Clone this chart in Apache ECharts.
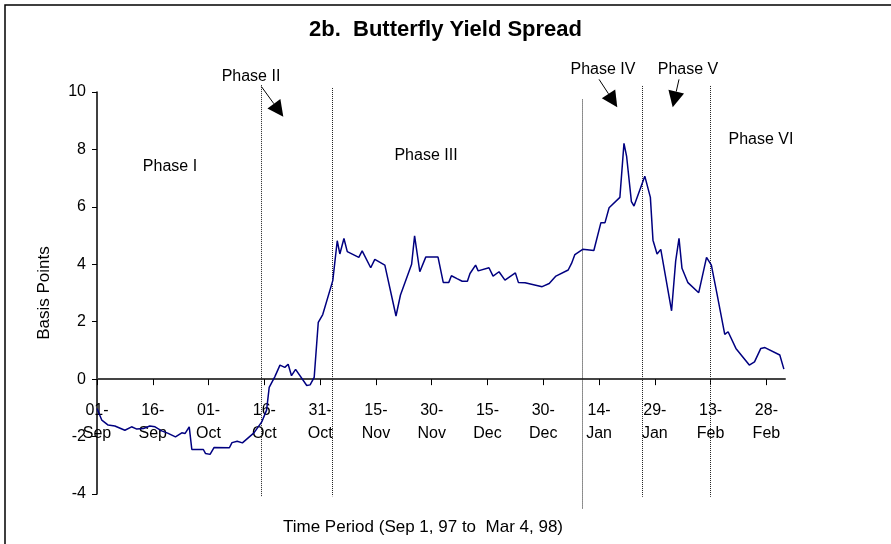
<!DOCTYPE html>
<html>
<head>
<meta charset="utf-8">
<script src="https://cdn.jsdelivr.net/npm/echarts@6/dist/echarts.min.js"></script>
<style>
  html, body { margin: 0; padding: 0; background: #fff; }
  #chart { width: 891px; height: 544px; }
</style>
</head>
<body>
<div id="chart"></div>
<script>
// days counted from 01-Sep-97
var days = [0, 1.3, 3, 4.8, 7.5, 9.3, 10.7, 12.5, 14.2, 15.6, 17.4, 19, 21.1, 22.8, 23.7, 24.8, 25.5, 28.6, 29.2, 30.4,
  31.5, 35.6, 36.3, 37.7, 39.1, 42.2, 44.3, 45.6, 46.3, 47.8, 49.2, 50.5, 51.4, 52.3, 53.4, 56.4, 57.3, 58.4, 59.5, 60.7,
  63.4, 64.6, 65.3, 66.4, 67.3, 70.4, 71.3, 73.6, 74.7, 77.4, 80.4, 81.6, 84.6, 85.4, 86.8, 88.4, 91.7, 93.1, 94.6, 95.3,
  96.8, 98.2, 99.6, 100.3, 101.8, 102.5, 105.4, 106.5, 108.1, 109.7, 112.5, 113.3, 115.1, 119.7, 121.6, 123.4, 126.7, 127.6, 128.5, 130.6,
  133.6, 135.5, 136.6, 137.7, 140.6, 141.7, 142.4, 143.7, 144.4, 147.3, 148.8, 149.5, 150.6, 151.6, 154.5, 155.6, 156.5, 157.3, 158.9, 161.8,
  163.9, 165.2, 166.7, 168.8, 169.7, 171.8, 175.4, 176.8, 178.5, 179.6, 183.6, 184.7];
var spread = [-1.02, -1.43, -1.6, -1.63, -1.78, -1.66, -1.74, -1.72, -1.63, -1.66, -1.8, -1.88, -2.01, -1.87, -1.89, -1.66, -2.45, -2.45, -2.59, -2.62,
  -2.38, -2.39, -2.21, -2.16, -2.22, -1.87, -1.49, -1.08, -0.29, 0.08, 0.49, 0.41, 0.52, 0.12, 0.34, -0.22, -0.2, 0.06, 1.98, 2.25,
  3.43, 4.82, 4.36, 4.9, 4.44, 4.24, 4.47, 3.88, 4.17, 3.97, 2.2, 2.93, 4.0, 4.99, 3.74, 4.25, 4.25, 3.37, 3.37, 3.6,
  3.5, 3.41, 3.41, 3.68, 3.97, 3.77, 3.88, 3.59, 3.74, 3.45, 3.7, 3.37, 3.36, 3.22, 3.33, 3.59, 3.8, 4.03, 4.34, 4.52,
  4.48, 5.45, 5.45, 5.97, 6.33, 8.21, 7.77, 6.18, 6.03, 7.07, 6.33, 4.84, 4.36, 4.52, 2.38, 4.11, 4.9, 3.86, 3.36, 3.01,
  4.24, 3.97, 2.98, 1.56, 1.65, 1.07, 0.49, 0.6, 1.07, 1.1, 0.84, 0.35];

var tickDays = [0, 15, 30, 45, 60, 75, 90, 105, 120, 135, 150, 165, 180];
var tickLabels = ['01-\nSep', '16-\nSep', '01-\nOct', '16-\nOct', '31-\nOct', '15-\nNov', '30-\nNov',
  '15-\nDec', '30-\nDec', '14-\nJan', '29-\nJan', '13-\nFeb', '28-\nFeb'];

// phase boundaries: [day, top value, bottom value]
var dividers = [[44.1, 10.24, -4.08], [63.4, 10.14, -4.08], [130.6, 9.74, -4.53], [146.8, 10.21, -4.1], [165, 10.21, -4.1]];
// arrows: [from day, from value, to day, to value]
var arrows = [[44.2, 10.19, 50.1, 9.14], [135.0, 10.44, 139.9, 9.47], [156.5, 10.44, 154.8, 9.47]];

var chart = echarts.init(document.getElementById('chart'));
var font = 'Liberation Sans, Arial, sans-serif';

var points = days.map(function (d, i) { return [d, spread[i]]; });

function phaseText(txt, x, y) {
  return {
    type: 'text', x: x, y: y, silent: true,
    style: { text: txt, font: '16px ' + font, fill: '#000', textAlign: 'center', textVerticalAlign: 'middle' }
  };
}

// grid is 402px tall over -4..10, so y=0 sits 4/14 of it above the bottom
var zeroOffset = -402 * 4 / 14;

chart.setOption({
  animation: false,
  title: [{
    text: '2b.  Butterfly Yield Spread',
    left: 'center', top: 14,
    textStyle: { fontFamily: font, fontSize: 22, fontWeight: 'bold', color: '#000' }
  }, {
    text: 'Time Period (Sep 1, 97 to  Mar 4, 98)',
    left: 418, top: 514, textAlign: 'center',
    textStyle: { fontFamily: font, fontSize: 17, fontWeight: 'normal', color: '#000' }
  }],
  grid: { left: 97, right: 106, top: 92, bottom: 50, outerBoundsMode: 'none', containLabel: false },
  xAxis: {
    type: 'value', min: 0, max: 185,
    offset: zeroOffset,
    axisLine: { onZero: false, lineStyle: { color: '#444', width: 2 } },
    axisTick: { customValues: tickDays, length: 6, lineStyle: { color: '#000' } },
    axisLabel: {
      customValues: tickDays, margin: 20, lineHeight: 23,
      fontFamily: font, fontSize: 16, color: '#000',
      formatter: function (v) { return tickLabels[tickDays.indexOf(v)]; }
    },
    splitLine: { show: false }
  },
  yAxis: {
    type: 'value', min: -4, max: 10, interval: 2,
    name: 'Basis Points', nameLocation: 'middle', nameGap: 44,
    nameTextStyle: { fontFamily: font, fontSize: 17, color: '#000' },
    axisLine: { show: true, onZero: false, lineStyle: { color: '#000', width: 1.5 } },
    axisTick: { show: true, length: 5, lineStyle: { color: '#000' } },
    axisLabel: { margin: 11, fontFamily: font, fontSize: 16, color: '#000' },
    splitLine: { show: false }
  },
  series: [{
    type: 'line',
    data: points,
    symbol: 'none',
    lineStyle: { color: '#000080', width: 1.5 },
    z: 3
  }, {
    type: 'custom',
    data: dividers,
    encode: { x: 0, y: [1, 2] },
    clip: false,
    silent: true,
    renderItem: function (params, api) {
      var p1 = api.coord([api.value(0), api.value(1)]);
      var p2 = api.coord([api.value(0), api.value(2)]);
      var x = Math.floor(p1[0]) + 0.5;
      return {
        type: 'line',
        shape: { x1: x, y1: p1[1], x2: x, y2: p2[1] },
        style: { stroke: '#222', lineWidth: 1, lineDash: [1, 1] }
      };
    },
    z: 2
  }, {
    type: 'custom',
    data: arrows,
    encode: { x: [0, 2], y: [1, 3] },
    clip: false,
    silent: true,
    renderItem: function (params, api) {
      var a = api.coord([api.value(0), api.value(1)]);
      var b = api.coord([api.value(2), api.value(3)]);
      var dx = b[0] - a[0], dy = b[1] - a[1];
      var len = Math.sqrt(dx * dx + dy * dy);
      var ux = dx / len, uy = dy / len;
      var head = 16, half = 8;
      var bx = b[0] - ux * head, by = b[1] - uy * head;
      return {
        type: 'group',
        children: [{
          type: 'line',
          shape: { x1: a[0], y1: a[1], x2: bx, y2: by },
          style: { stroke: '#000', lineWidth: 1 }
        }, {
          type: 'polygon',
          shape: { points: [[b[0], b[1]], [bx - uy * half, by + ux * half], [bx + uy * half, by - ux * half]] },
          style: { fill: '#000' }
        }]
      };
    },
    z: 4
  }],
  graphic: [
    { type: 'rect', shape: { x: 5, y: 5, width: 1000, height: 1000 }, style: { fill: 'none', stroke: '#000', lineWidth: 1.5 }, silent: true },
    phaseText('Phase I', 170, 167),
    phaseText('Phase II', 251, 77),
    phaseText('Phase III', 426, 156),
    phaseText('Phase IV', 603, 70),
    phaseText('Phase V', 688, 70),
    phaseText('Phase VI', 761, 140)
  ]
});
</script>
</body>
</html>
